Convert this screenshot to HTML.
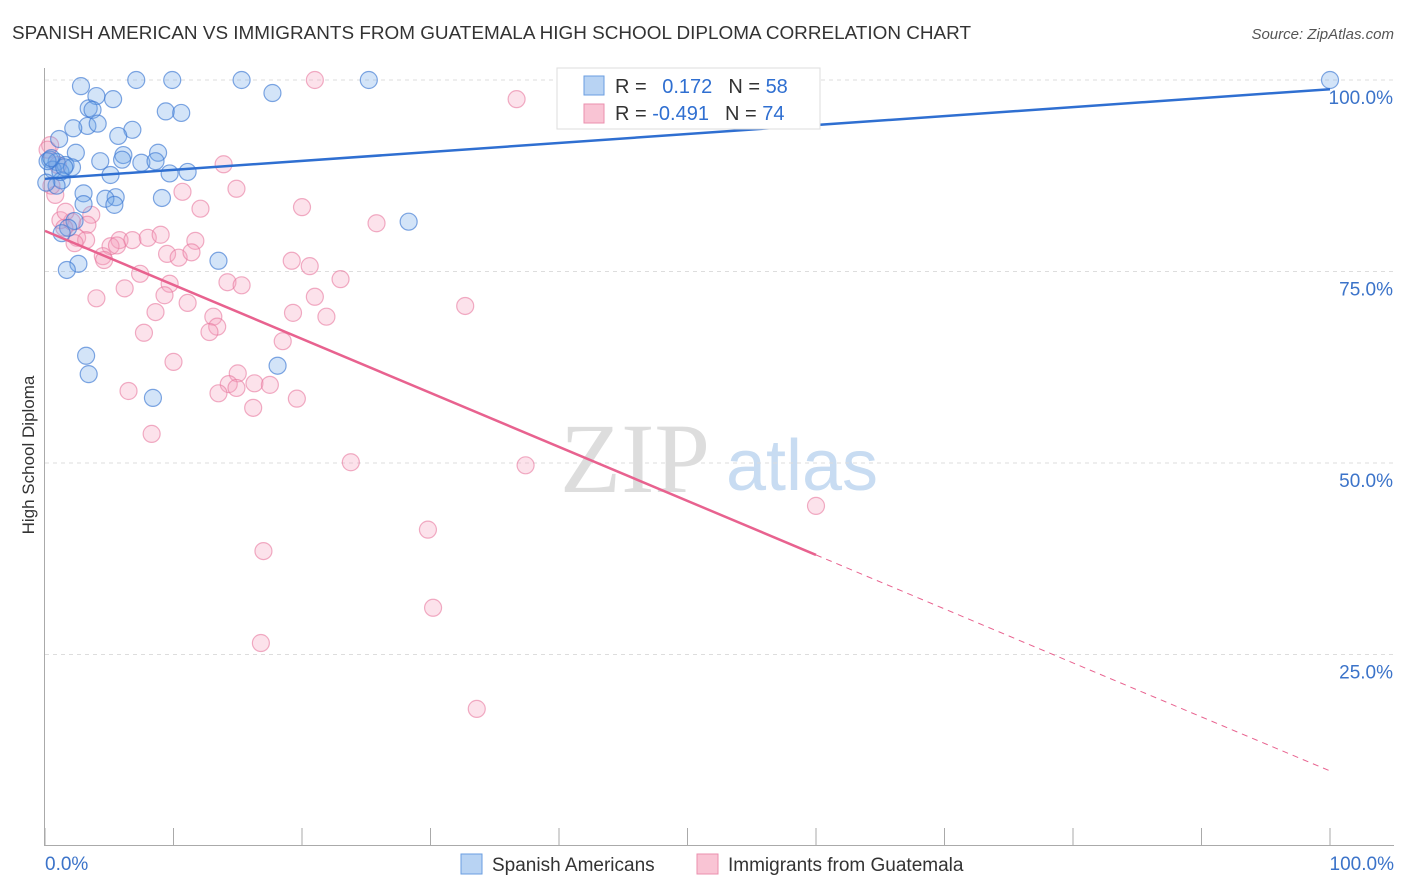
<!DOCTYPE html>
<html><head><meta charset="utf-8"><style>
body{margin:0;background:#fff;font-family:"Liberation Sans",sans-serif;}
svg{display:block}
</style></head><body>
<svg id="c" width="1406" height="892">
<text x="12" y="39" font-size="18" fill="#333" textLength="959" lengthAdjust="spacingAndGlyphs">SPANISH AMERICAN VS IMMIGRANTS FROM GUATEMALA HIGH SCHOOL DIPLOMA CORRELATION CHART</text>
<text x="1394" y="39" font-size="15" fill="#555" font-style="italic" text-anchor="end">Source: ZipAtlas.com</text>
<text x="34" y="455" font-size="17" fill="#333" text-anchor="middle" transform="rotate(-90 34 455)">High School Diploma</text>
<g>
<text x="635" y="492" font-size="100" fill="#ddd" font-family="Liberation Serif,serif" text-anchor="middle">ZIP</text>
<text x="802" y="490" font-size="72" fill="#c8dcf2" text-anchor="middle">atlas</text>
</g>
<g id="grid"></g><g id="marks"></g><g id="lines"></g>
<g>
<rect x="557" y="68" width="263" height="61" fill="#fff" stroke="#ddd"/>
<rect x="584" y="76" width="20" height="19" fill="#b8d3f3" stroke="#6a9ee0"/>
<rect x="584" y="104" width="20" height="19" fill="#f9c4d4" stroke="#eb8fae"/>
<text x="615" y="93" font-size="20" fill="#333">R = <tspan fill="#2f6fd1" dx="10">0.172</tspan><tspan fill="#333" dx="16">N = </tspan><tspan fill="#2f6fd1">58</tspan></text>
<text x="615" y="120" font-size="20" fill="#333">R = <tspan fill="#2f6fd1">-0.491</tspan><tspan fill="#333" dx="16">N = </tspan><tspan fill="#2f6fd1">74</tspan></text>
</g>
<g>
<rect x="461" y="854" width="21" height="20" fill="#b8d3f3" stroke="#6a9ee0"/>
<text x="492" y="871" font-size="19" fill="#333">Spanish Americans</text>
<rect x="697" y="854" width="21" height="20" fill="#f9c4d4" stroke="#eb8fae"/>
<text x="728" y="871" font-size="19" fill="#333">Immigrants from Guatemala</text>
</g>
</svg>
<script>
const yTicks=[100,75,50,25];
const yTickLabels=["100.0%","75.0%","50.0%","25.0%"];
const xTickLabels=["0.0%","100.0%"];
const blueX=[2.8,7.1,9.9,15.3,25.2,100,17.7,4.0,5.3,3.4,3.7,9.4,10.6,3.3,2.2,4.1,6.8,5.7,1.1,2.4,6.1,6.0,8.8,4.3,7.5,8.6,0.4,0.9,1.6,0.6,5.1,9.7,11.1,1.3,0.9,3.0,5.5,4.7,9.1,3.0,5.4,28.3,2.3,1.8,1.3,13.5,2.6,1.7,3.2,3.4,18.1,8.4,0.2,0.5,0.1,1.2,2.1,1.5];
const blueY=[99.2,100,100,100,100,100,98.3,97.9,97.5,96.3,96.1,95.9,95.7,94.0,93.7,94.3,93.5,92.7,92.3,90.5,90.2,89.6,90.5,89.4,89.2,89.4,89.6,89.3,88.9,88.3,87.6,87.8,88.0,86.9,86.2,85.2,84.7,84.5,84.6,83.8,83.7,81.5,81.6,80.7,80.0,76.4,76.0,75.2,64.0,61.6,62.7,58.5,89.4,89.8,86.6,88.0,88.6,88.6];
const pinkX=[21.0,36.7,0.4,13.9,14.9,10.7,0.8,12.1,20.0,25.8,1.2,2.1,3.6,3.3,1.5,2.5,3.2,2.3,5.8,6.8,8.0,9.0,5.1,11.7,5.6,4.5,4.6,7.4,9.5,10.4,11.4,14.2,15.3,19.2,20.6,23.0,6.2,4.0,9.7,11.1,9.3,8.6,13.1,13.4,12.8,19.3,21.0,21.9,32.7,7.7,18.5,10.0,15.0,14.3,16.3,17.5,13.5,6.5,14.9,16.2,19.6,8.3,23.8,37.4,60.0,29.8,17.0,30.2,16.8,33.6,0.2,0.5,1.0,1.6];
const pinkY=[100,97.5,91.5,89.0,85.8,85.4,85.0,83.2,83.4,81.3,81.7,81.5,82.4,81.1,80.7,79.4,79.1,78.7,79.1,79.1,79.4,79.8,78.3,79.0,78.4,77.0,76.5,74.7,77.3,76.8,77.5,73.6,73.2,76.4,75.7,74.0,72.8,71.5,73.4,70.9,71.9,69.7,69.1,67.8,67.1,69.6,71.7,69.1,70.5,67.0,65.9,63.2,61.7,60.3,60.4,60.2,59.1,59.4,59.8,57.2,58.4,53.8,50.1,49.7,44.4,41.3,38.5,31.1,26.5,17.9,90.9,86.2,88.9,82.8];
const blueLine=[87.1,98.8];
const pinkLine=[80.3,9.8];
const pinkSolidEnd=60;
const NS="http://www.w3.org/2000/svg";
const sx=v=>45+v*12.85, sy=v=>846-v*7.66;
function mk(t,a,p){const e=document.createElementNS(NS,t);for(const k in a)e.setAttribute(k,a[k]);p.appendChild(e);return e;}
const grid=document.getElementById('grid'),marks=document.getElementById('marks'),lines=document.getElementById('lines');
yTicks.forEach((v,i)=>{
 const l=mk('line',{x1:45,x2:1394,y1:sy(v),y2:sy(v),stroke:'#ddd','stroke-dasharray':'4 4'},grid);
 
 
 const t=mk('text',{x:1393,y:sy(v)+24,'font-size':19,fill:'#3b73c9','text-anchor':'end'},grid);t.textContent=yTickLabels[i];
 
 
});
const ax=mk('line',{x1:44.5,x2:44.5,y1:68,y2:846,stroke:'#aaa'},grid);


const bx=mk('line',{x1:45,x2:1394,y1:845.5,y2:845.5,stroke:'#aaa'},grid);


for(let i=0;i<=10;i++){const t=mk('line',{x1:sx(i*10),x2:sx(i*10),y1:828,y2:846,stroke:'#aaa'},grid);
 
 }
[[0,'start',45],[1,'end',1394]].forEach(([i,a,x])=>{const t=mk('text',{x:x,y:870,'font-size':19,fill:'#3b73c9','text-anchor':a},grid);t.textContent=xTickLabels[i];
 
 });
pinkX.forEach((x,i)=>{const c=mk('circle',{cx:sx(x),cy:sy(pinkY[i]),r:8.5,fill:'rgba(244,160,188,0.3)',stroke:'rgba(232,120,158,0.6)','stroke-width':1.2},marks);
 
 });
blueX.forEach((x,i)=>{const c=mk('circle',{cx:sx(x),cy:sy(blueY[i]),r:8.5,fill:'rgba(110,165,232,0.3)',stroke:'rgba(60,120,210,0.65)','stroke-width':1.2},marks);
 
 });
const bl=mk('line',{x1:sx(0),y1:sy(blueLine[0]),x2:sx(100),y2:sy(blueLine[1]),stroke:'#2f6fd1','stroke-width':2.5},lines);


const pm=pinkLine[0]+(pinkLine[1]-pinkLine[0])*pinkSolidEnd/100;
const pl=mk('line',{x1:sx(0),y1:sy(pinkLine[0]),x2:sx(pinkSolidEnd),y2:sy(pm),stroke:'#e8628f','stroke-width':2.5},lines);


const pd=mk('line',{x1:sx(pinkSolidEnd),y1:sy(pm),x2:sx(100),y2:sy(pinkLine[1]),stroke:'#e8628f','stroke-width':1,'stroke-dasharray':'6 5'},lines);


</script>
</body></html>
